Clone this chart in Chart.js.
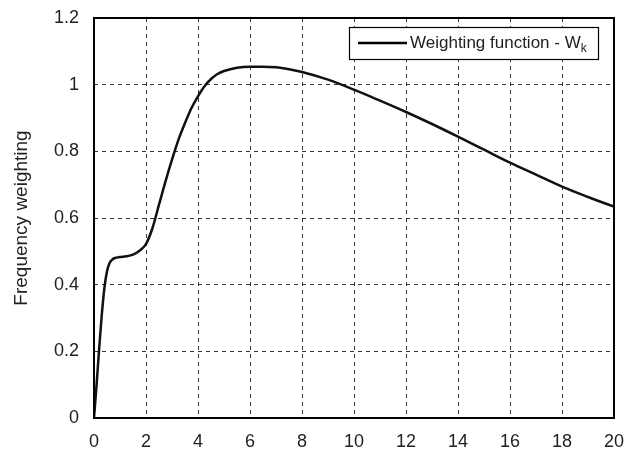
<!DOCTYPE html>
<html>
<head>
<meta charset="utf-8">
<script src="https://cdn.jsdelivr.net/npm/chart.js@4.4.1/dist/chart.umd.min.js"></script>
<style>
  html, body { margin: 0; padding: 0; background: #fff; }
  #wrap { width: 626px; height: 453px; }
</style>
</head>
<body>
<div id="wrap"><canvas id="wkChart"></canvas></div>
<script>
// Frequency (Hz) and weighting
const freq = [0, 0.1, 0.2, 0.3, 0.4, 0.5, 0.6, 0.7, 0.8, 1.0, 1.25, 1.5, 1.75, 2.0, 2.25, 2.5,
    2.75, 3.0, 3.25, 3.5, 3.75, 4.0, 4.25, 4.5, 4.75, 5.0, 5.5, 6.0, 6.5, 7.0, 7.5, 8, 9, 10,
    11, 12, 13, 14, 15, 16, 17, 18, 19, 20];
const weighting = [0, 0.1, 0.21, 0.31, 0.39, 0.44, 0.465, 0.475, 0.48, 0.483, 0.485, 0.49, 0.502, 0.522, 0.57, 0.64,
    0.71, 0.775, 0.835, 0.885, 0.93, 0.965, 0.995, 1.017, 1.032, 1.041, 1.051, 1.054, 1.054, 1.052, 1.046, 1.038, 1.015, 0.985,
    0.952, 0.918, 0.882, 0.844, 0.805, 0.766, 0.73, 0.694, 0.663, 0.634];
const xTicks = [0, 2, 4, 6, 8, 10, 12, 14, 16, 18, 20];
const yTicks = [0, 0.2, 0.4, 0.6, 0.8, 1, 1.2];
const seriesName = 'Weighting function - W';
const seriesSub = 'k';

const FONT = 'Liberation Sans, Arial, sans-serif';

// frame round the plot area
const framePlugin = {
    id: 'frame',
    afterDatasetsDraw(chart) {
        const a = chart.chartArea;
        const ctx = chart.ctx;
        ctx.save();
        ctx.strokeStyle = '#000';
        ctx.lineWidth = 2;
        ctx.strokeRect(a.left, a.top, a.right - a.left, a.bottom - a.top);
        ctx.restore();
    }
};

// boxed legend with a subscript k
const legendPlugin = {
    id: 'boxLegend',
    afterDraw(chart) {
        const a = chart.chartArea;
        const ctx = chart.ctx;
        const w = 249, h = 32;
        const x = a.right - 16 - w, y = a.top + 9;
        ctx.save();
        ctx.fillStyle = '#fff';
        ctx.fillRect(x, y, w, h);
        ctx.strokeStyle = '#000';
        ctx.lineWidth = 1.2;
        ctx.strokeRect(x + 0.5, y + 0.5, w, h);
        ctx.lineWidth = 2.5;
        ctx.beginPath();
        ctx.moveTo(x + 9, y + 16);
        ctx.lineTo(x + 58, y + 16);
        ctx.stroke();
        ctx.fillStyle = '#222';
        ctx.textBaseline = 'middle';
        ctx.font = '17px ' + FONT;
        ctx.fillText(seriesName, x + 61, y + 16);
        const tw = ctx.measureText(seriesName).width;
        ctx.font = '12px ' + FONT;
        ctx.fillText(seriesSub, x + 61 + tw, y + 22);
        ctx.restore();
    }
};

document.addEventListener('DOMContentLoaded', function() {
    const ctx = document.getElementById('wkChart').getContext('2d');
    const points = freq.map((f, i) => ({ x: f, y: weighting[i] }));

    new Chart(ctx, {
        type: 'scatter',
        data: {
            datasets: [{
                label: seriesName + seriesSub,
                data: points,
                showLine: true,
                borderColor: '#111',
                borderWidth: 2.5,
                pointRadius: 0,
                cubicInterpolationMode: 'monotone'
            }]
        },
        options: {
            responsive: true,
            maintainAspectRatio: false,
            animation: false,
            layout: { padding: { top: 18, right: 12, left: 0, bottom: 0 } },
            scales: {
                x: {
                    type: 'linear',
                    min: 0,
                    max: 20,
                    afterBuildTicks: s => { s.ticks = xTicks.map(v => ({ value: v })); },
                    afterFit: s => {
                        s.height = 35;
                        s.paddingLeft = 0;
                        s.paddingRight = 0;
                    },
                    grid: { color: '#333', lineWidth: 1, drawTicks: false },
                    border: { display: false, dash: [4, 4] },
                    ticks: {
                        color: '#222',
                        padding: 13,
                        font: { family: FONT, size: 18 }
                    }
                },
                y: {
                    min: 0,
                    max: 1.2,
                    afterBuildTicks: s => { s.ticks = yTicks.map(v => ({ value: v })); },
                    afterFit: s => {
                        s.width = 94;
                        s.paddingTop = 0;
                        s.paddingBottom = 0;
                    },
                    grid: { color: '#333', lineWidth: 1, drawTicks: false },
                    border: { display: false, dash: [4, 4] },
                    ticks: {
                        color: '#222',
                        padding: 15,
                        font: { family: FONT, size: 18 },
                        callback: v => String(+v.toFixed(1))
                    },
                    title: {
                        display: true,
                        text: 'Frequency weighting',
                        color: '#222',
                        padding: { top: 10, bottom: 0 },
                        font: { family: FONT, size: 19 }
                    }
                }
            },
            plugins: {
                legend: { display: false },
                tooltip: { enabled: false }
            }
        },
        plugins: [framePlugin, legendPlugin]
    });
});
</script>
</body>
</html>
